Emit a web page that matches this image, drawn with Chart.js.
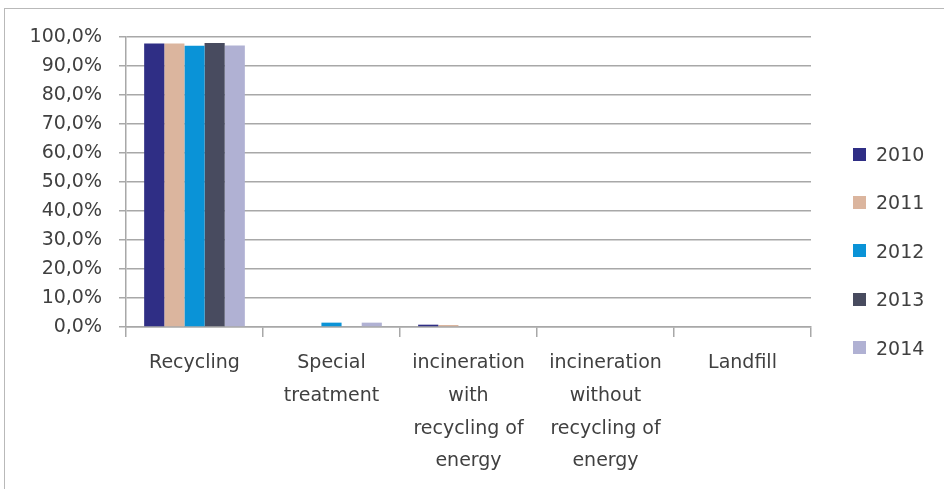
<!DOCTYPE html>
<html>
<head>
<meta charset="utf-8">
<script src="https://cdn.jsdelivr.net/npm/chart.js@4.4.1/dist/chart.umd.min.js"></script>
<style>
  html, body { margin: 0; padding: 0; background: #fff; }
  #frame { position: absolute; left: 0; top: 0; width: 944px; height: 489px; overflow: hidden; }
  #border { position: absolute; left: 4px; top: 8px; width: 980px; height: 520px;
            border-left: 1.5px solid #b9b9b9; border-top: 1.5px solid #b9b9b9; }
  #chart { position: absolute; left: 0; top: 0; }
  .item { position: absolute; left: 853px; height: 20px; display: flex; align-items: center;
          font-family: "DejaVu Sans", sans-serif; font-size: 19px; color: #404040; }
  .swatch { width: 13px; height: 13px; margin-right: 10px; }
</style>
</head>
<body>
<div id="frame">
  <div id="border"></div>
  <canvas id="chart" width="944" height="489"></canvas>
  <div id="legend"></div>
</div>
<script>
// Waste treatment categories (multi-line tick labels)
const categories = [
  ["Recycling"],
  ["Special", "treatment"],
  ["incineration", "with", "recycling of", "energy"],
  ["incineration", "without", "recycling of", "energy"],
  ["Landfill"]
];
const years = ["2010", "2011", "2012", "2013", "2014"];

// Share of each treatment per year, in percent
const share2010 = [97.8, 0, 0.8, 0, 0];
const share2011 = [97.8, 0, 0.7, 0, 0];
const share2012 = [97.0, 1.5, 0, 0, 0];
const share2013 = [97.9, 0, 0, 0, 0];
const share2014 = [97.1, 1.5, 0, 0, 0];

const yearColors = ["#2f2e85", "#dbb59e", "#0a93d7", "#484b5f", "#b0b1d3"];
const yTicks = [0, 10, 20, 30, 40, 50, 60, 70, 80, 90, 100];

const series = [share2010, share2011, share2012, share2013, share2014];
const labelFont = { family: "'DejaVu Sans', sans-serif", size: 19 };
const gridGray = "#a8a8a8";

const chart = new Chart(document.getElementById("chart"), {
  type: "bar",
  data: {
    labels: categories,
    datasets: years.map((y, i) => ({
      label: y,
      data: series[i],
      backgroundColor: yearColors[i],
      borderWidth: 0,
      categoryPercentage: 0.735,
      barPercentage: 1.0
    }))
  },
  options: {
    responsive: false,
    animation: false,
    events: [],
    layout: { padding: { left: 0, top: 37, right: 133, bottom: 0 } },
    plugins: { legend: { display: false }, tooltip: { enabled: false } },
    scales: {
      x: {
        offset: true,
        afterFit: s => { s.height = 162; },
        grid: { offset: true, drawOnChartArea: false, drawTicks: true, tickLength: 10,
                color: gridGray, lineWidth: 1.5 },
        border: { display: true, color: gridGray, width: 1.5 },
        ticks: { autoSkip: false, maxRotation: 0, minRotation: 0, padding: 10,
                 color: "#404040", font: Object.assign({ lineHeight: 1.72 }, labelFont) }
      },
      y: {
        min: 0, max: 100,
        afterFit: s => { s.width = 126; },
        afterBuildTicks: s => { s.ticks = yTicks.map(v => ({ value: v })); },
        grid: { color: gridGray, lineWidth: 1.5, drawTicks: true, tickLength: 7 },
        border: { display: true, color: gridGray, width: 1.5 },
        ticks: {
          padding: 17, color: "#404040", font: labelFont,
          callback: v => v.toFixed(1).replace(".", ",") + "%"
        }
      }
    }
  }
});

// Legend column at the right, built from the datasets
const legend = document.getElementById("legend");
chart.data.datasets.forEach((ds, i) => {
  const item = document.createElement("div");
  item.className = "item";
  item.style.top = (144 + i * 48.4) + "px";
  const sw = document.createElement("span");
  sw.className = "swatch";
  sw.style.background = ds.backgroundColor;
  const tx = document.createElement("span");
  tx.textContent = ds.label;
  item.appendChild(sw);
  item.appendChild(tx);
  legend.appendChild(item);
});
</script>
</body>
</html>
